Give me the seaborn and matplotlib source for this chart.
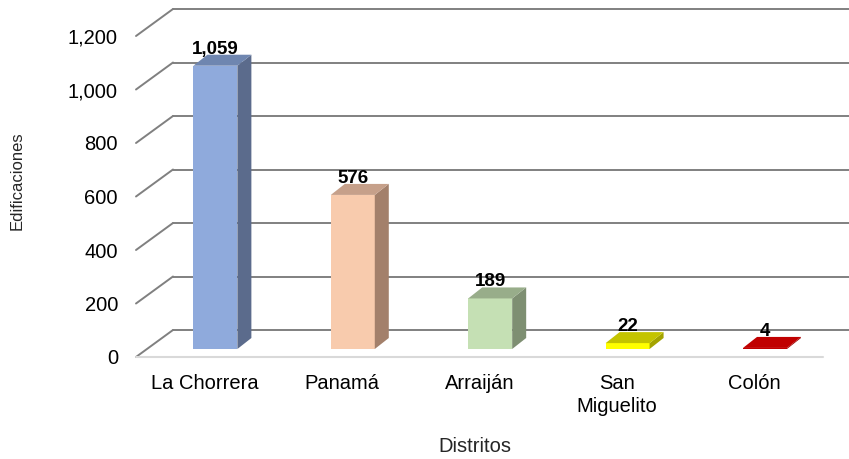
import matplotlib
matplotlib.use("Agg")
import matplotlib.pyplot as plt
from matplotlib.patches import Polygon
from matplotlib.ticker import FuncFormatter
import seaborn as sns
import pandas as pd

# ------------------------------------------------------------
# Data
# ------------------------------------------------------------

distritos = ["La Chorrera", "Panamá", "Arraiján", "San\nMiguelito", "Colón"]
edificaciones = [1059, 576, 189, 22, 4]
yticks = [0, 200, 400, 600, 800, 1000, 1200]

# colours: front face, side face, top face
front_colors = ["#8faadc", "#f8cbad", "#c5e0b4", "#ffff00", "#c00000"]
side_colors = ["#5b6b8c", "#a3806b", "#7e8f72", "#a3a300", "#9a0000"]
top_colors = ["#6f86b0", "#c6a08a", "#98ad8a", "#c4c400", "#c00000"]

# ------------------------------------------------------------
# Figure / axes (front plane of the 3D box)
# ------------------------------------------------------------

sns.set_style("white")
plt.rcParams["font.family"] = ["Liberation Sans", "DejaVu Sans"]

W, H = 849, 459
fig = plt.figure(figsize=(W / 100, H / 100), dpi=100)
left, right, bottom, top = 136, 823, 357, 36
ax = fig.add_axes([left / W, 1 - bottom / H, (right - left) / W, (bottom - top) / H])

df = pd.DataFrame({"Distrito": distritos, "Edificaciones": edificaciones})
sns.barplot(
    data=df, x="Distrito", y="Edificaciones", hue="Distrito",
    palette=front_colors, width=0.32, saturation=1, legend=False,
    ax=ax, zorder=3, linewidth=0,
)

ax.set_xlim(-0.5, len(distritos) - 0.5)
ax.set_ylim(0, 1200)

# pixel -> data conversions
px_x = len(distritos) / (right - left)
px_y = 1200 / (bottom - top)

wall_dx, wall_dy = 37, 27      # depth of the back wall
bar_dx, bar_dy = 10.7, 8       # bars sit a bit into the box
depth_dx, depth_dy = 14, 11    # depth of each bar

# ------------------------------------------------------------
# Back wall gridlines + left wall diagonals
# ------------------------------------------------------------

grid_c = "#808080"
x_back0 = -0.5 + wall_dx * px_x
for t in yticks:
    yb = t + wall_dy * px_y
    ax.plot([x_back0, len(distritos) + 1], [yb, yb], color=grid_c, lw=1.4,
            clip_on=False, zorder=1)
    ax.plot([-0.5, x_back0], [t, yb], color=grid_c, lw=1.4,
            clip_on=False, zorder=1)

# front edge of the floor
ax.plot([-0.5, len(distritos) - 0.5], [0, 0], color="#d9d9d9", lw=1.5,
        clip_on=False, zorder=2)

# ------------------------------------------------------------
# 3D faces for the bars
# ------------------------------------------------------------

bars = sorted(ax.patches, key=lambda p: p.get_x())
for i, p in enumerate(bars):
    p.set_x(p.get_x() + bar_dx * px_x)
    p.set_y(bar_dy * px_y)
    x0 = p.get_x()
    x1 = x0 + p.get_width()
    y0 = p.get_y()
    y1 = y0 + p.get_height()
    dx = depth_dx * px_x
    dy = depth_dy * px_y
    side = Polygon([(x1, y0), (x1 + dx, y0 + dy), (x1 + dx, y1 + dy), (x1, y1)],
                   closed=True, facecolor=side_colors[i], edgecolor="none", zorder=3)
    roof = Polygon([(x0, y1), (x0 + dx, y1 + dy), (x1 + dx, y1 + dy), (x1, y1)],
                   closed=True, facecolor=top_colors[i], edgecolor="none", zorder=3)
    ax.add_patch(side)
    ax.add_patch(roof)
    ax.text((x0 + x1) / 2, y1 + dy + 1 * px_y, f"{edificaciones[i]:,}",
            ha="center", va="baseline", fontsize=13.5, fontweight="bold",
            color="black", zorder=5)

# ------------------------------------------------------------
# Axes styling
# ------------------------------------------------------------

for s in ax.spines.values():
    s.set_visible(False)
ax.set_yticks(yticks)
ax.yaxis.set_major_formatter(FuncFormatter(lambda v, _: f"{int(v):,}"))
ax.tick_params(axis="y", length=0, pad=13, labelsize=14.5, labelcolor="black")
ax.tick_params(axis="x", length=0, pad=12, labelsize=14.5, labelcolor="black")
for lbl in ax.get_xticklabels():
    lbl.set_linespacing(1.3)
ax.set_xlabel("")
ax.set_ylabel("")
ax.grid(False)

fig.text(475 / W, 1 - 447 / H, "Distritos", ha="center", va="center", fontsize=14.5)
fig.text(17 / W, 1 - 181 / H, "Edificaciones", ha="center", va="center",
         rotation=90, fontsize=12)

fig.savefig("out.png", dpi=100)
